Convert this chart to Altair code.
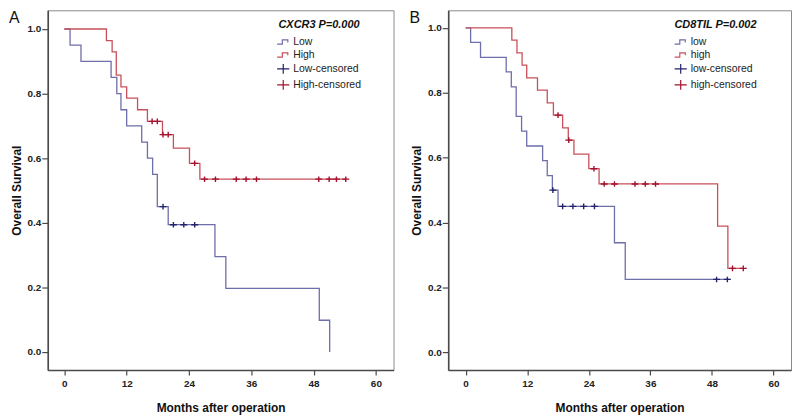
import altair as alt
import pandas as pd

# ---------------- data ----------------
# Panel A: CXCR3
a_low_t = [0, 1.1, 3.2, 9.0, 10.1, 10.9, 12.0, 14.9, 16.0, 17.0, 17.9, 20.0, 29.0, 31.1, 49.1, 51.1]
a_low_s = [1.0, 0.95, 0.90, 0.85, 0.80, 0.75, 0.70, 0.65, 0.60, 0.55, 0.45, 0.394, 0.295, 0.197, 0.098, 0.0]
a_high_t = [0, 8.1, 9.2, 10.0, 10.9, 12.0, 14.1, 16.0, 18.9, 21.0, 24.1, 26.1, 54.3]
a_high_s = [1.0, 0.964, 0.929, 0.857, 0.821, 0.786, 0.75, 0.714, 0.673, 0.631, 0.584, 0.535, 0.535]
a_lowc_t = [19.0, 21.0, 23.0, 25.1]
a_lowc_s = [0.45, 0.394, 0.394, 0.394]
a_highc_t = [16.9, 17.9, 19.0, 20.0, 25.1, 27.0, 29.1, 33.1, 35.0, 37.0, 49.0, 51.0, 52.4, 54.2]
a_highc_s = [0.714, 0.714, 0.673, 0.673, 0.584, 0.535, 0.535, 0.535, 0.535, 0.535, 0.535, 0.535, 0.535, 0.535]

# Panel B: CD8TIL
b_low_t = [0, 0.97, 2.9, 7.9, 8.9, 9.85, 10.9, 11.9, 15.0, 15.9, 16.9, 18.0, 29.0, 31.1, 51.4]
b_low_s = [1.0, 0.955, 0.909, 0.864, 0.818, 0.727, 0.682, 0.636, 0.591, 0.545, 0.50, 0.45, 0.338, 0.225, 0.225]
b_high_t = [0, 9.0, 10.0, 11.0, 11.9, 14.0, 15.9, 17.1, 18.9, 20.0, 21.1, 24.0, 26.0, 49.1, 51.1, 54.1]
b_high_s = [1.0, 0.962, 0.923, 0.885, 0.846, 0.808, 0.769, 0.731, 0.692, 0.654, 0.611, 0.566, 0.519, 0.389, 0.259, 0.259]
b_lowc_t = [17.0, 18.9, 20.9, 23.0, 25.1, 48.9, 51.0]
b_lowc_s = [0.50, 0.45, 0.45, 0.45, 0.45, 0.225, 0.225]
b_highc_t = [18.0, 20.1, 25.0, 27.0, 29.0, 33.0, 35.0, 37.0, 52.0, 54.1]
b_highc_s = [0.731, 0.654, 0.566, 0.519, 0.519, 0.519, 0.519, 0.519, 0.259, 0.259]

a_keys = ["Low", "High", "Low-censored", "High-censored"]
b_keys = ["low", "high", "low-censored", "high-censored"]
a_title = "CXCR3 P=0.000"
b_title = "CD8TIL P=0.002"
panel_labels = ["A", "B"]
x_ticks = [0, 12, 24, 36, 48, 60]
y_ticks = [0.0, 0.2, 0.4, 0.6, 0.8, 1.0]

colors = ["#6e6eaa", "#c8505a", "#23236b", "#a3112e"]
FONT = "Liberation Sans"
STEP = "M-1,0.35H-0.15V-0.35H0.75V0.05"
CROSS = "M-1,0H1M0,-0.8V0.8"
shapes = [STEP, STEP, CROSS, CROSS]


def curves(t1, s1, t2, s2, keys):
    return pd.DataFrame({
        "t": t1 + t2,
        "s": s1 + s2,
        "key": [keys[0]] * len(t1) + [keys[1]] * len(t2),
    })


def make_legend(title, w):
    return alt.Legend(
        title=title,
        orient="none",
        legendX=w - 118,
        legendY=9,
        titleFont=FONT,
        titleFontSize=11,
        titleFontWeight="bold",
        titleFontStyle="italic",
        titleAnchor="middle",
        titleColor="#111",
        titlePadding=5,
        labelFont=FONT,
        labelFontSize=10.5,
        labelColor="#222",
        labelOffset=3,
        symbolSize=150,
        symbolStrokeWidth=1.2,
        symbolFillColor="transparent",
        rowPadding=0,
        padding=0,
    )


def panel(lines, cens, keys, title, label, xdom, ydom, w, h):
    color = alt.Color("key:N", scale=alt.Scale(domain=keys, range=colors), legend=make_legend(title, w))
    shape = alt.Shape("key:N", scale=alt.Scale(domain=keys, range=shapes), legend=make_legend(title, w))
    x = alt.X(
        "t:Q",
        scale=alt.Scale(domain=xdom, nice=False, zero=False),
        axis=alt.Axis(values=x_ticks, title="Months after operation"),
    )
    y = alt.Y(
        "s:Q",
        scale=alt.Scale(domain=ydom, nice=False, zero=False),
        axis=alt.Axis(values=y_ticks, format=".1f", title="Overall Survival"),
    )
    line = alt.Chart(lines).mark_line(interpolate="step-after", strokeWidth=1.3).encode(
        x=x, y=y, color=color, detail="key:N"
    )
    pts = alt.Chart(cens).mark_point(filled=False, size=49, strokeWidth=1.4, opacity=1).encode(
        x="t:Q", y="s:Q", color="key:N", shape=shape
    )
    lab = alt.Chart(pd.DataFrame({"label": [label]})).mark_text(
        align="left", baseline="top", font=FONT, fontSize=16, color="#111"
    ).encode(text="label:N", x=alt.value(-39), y=alt.value(0))
    return alt.layer(line, pts, lab).properties(width=w, height=h)


a_lines = curves(a_low_t, a_low_s, a_high_t, a_high_s, a_keys)
a_cens = curves(a_lowc_t, a_lowc_s, a_highc_t, a_highc_s, a_keys[2:])
b_lines = curves(b_low_t, b_low_s, b_high_t, b_high_s, b_keys)
b_cens = curves(b_lowc_t, b_lowc_s, b_highc_t, b_highc_s, b_keys[2:])

pa = panel(a_lines, a_cens, a_keys, a_title, panel_labels[0], [-3.2, 63.4], [-0.056, 1.058], 348, 362)
pb = panel(b_lines, b_cens, b_keys, b_title, panel_labels[1], [-3.4, 63.4], [-0.054, 1.054], 345, 362)

chart = alt.hconcat(pa, pb, spacing=14, padding=0).resolve_scale(
    color="independent", shape="independent"
).configure_view(
    stroke="#8a8a8a", strokeWidth=1
).configure_axis(
    grid=False,
    domainColor="#4a4a4a",
    domainWidth=1.6,
    tickColor="#4a4a4a",
    tickWidth=1.2,
    tickSize=5,
    labelFont=FONT,
    labelFontSize=10,
    labelFontWeight="bold",
    labelColor="#222",
    labelPadding=2,
    titleFont=FONT,
    titleFontSize=12,
    titleFontWeight="bold",
    titleColor="#111",
).configure_axisY(titlePadding=4, tickSize=6, labelPadding=1).configure_axisX(titlePadding=14, labelPadding=4)

chart.save("out.html", embed_options={"renderer": "svg", "actions": False})
